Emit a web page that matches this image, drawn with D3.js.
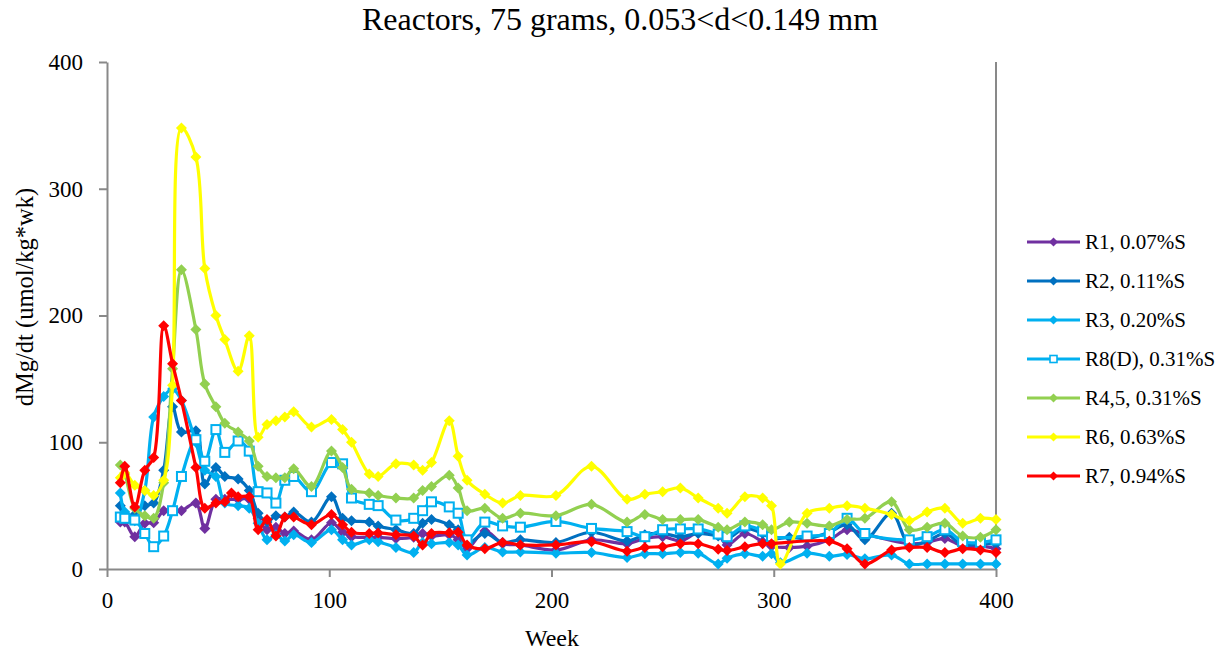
<!DOCTYPE html>
<html><head><meta charset="utf-8">
<script src="https://cdn.jsdelivr.net/npm/d3@7"></script>
<style>body{margin:0;background:#fff}svg{display:block}</style>
</head><body>
<svg id="c" width="1227" height="656"></svg>
<script>
const weeks = [6, 8, 12.5, 17, 21, 25.5, 29.5, 33.5, 40, 44, 49, 53, 56, 59, 64, 68, 72, 76, 80, 84, 92, 101, 106, 110, 118, 122, 130, 138, 142, 146, 154, 158, 162, 170, 178, 186, 202, 218, 234, 242, 250, 258, 266, 275, 279, 287, 295, 299, 303, 307, 315, 325, 333, 341, 353, 361, 369, 377, 385, 393, 400];
const r1 = [37,37,25.5,36,36.5, 46,46,46,52,32, 55,55,null,55,55, 40,31,33,28,30, 23,36.5,29,25.5,25, 25,24,25,28,26, 27,23,16,30,20, 19,15,23,20,24, 25.5,22.3,28.6,27,19, 28,21.5,18,null,17, 18,23,31,27.6,null, 20,21,24,18,18, 16];
const r2 = [50,40,43,50,52, 78,128,108,109,67, 80,73,null,71,62, 44,37,42,41,45, 37,57,40,38,37, 34,31,28,36,39, 35,31,20,28,21, 23,21,29,22,27, 28,25.5,28,26,24, 32,28,24,null,25, 24,29,35,23,44, 19,22,28,19,20, 20];
const r3 = [60,45,38,62,120, 136,142,133,100,78, 73,52,null,50,48, 36,23,27,22,27, 21,31,23,19,23, 21.5,17,13,21,20, 21,19,11,17,13.5, 13.5,12.5,13,9,12, 12,13,12.5,4,8.5, 12,10,12,5,null, 12.5,10,11.5,8,11, 4,4,4,4,4, 4];
const r8 = [41,40,38.6,28,17.6, 26,46,73,102,85, 110,92,null,101,93, 61,60,52,70,73, 61,84,83,56,51, 50,38.6,40,46,53, 49,44,23,37,34, 33,37.5,32,29.5,25.5, 31,31.6,31.6,27.6,25.5, 34,30,25.5,null,null, 26,28,40,28,null, 23,25.5,31,21.5,21, 23];
const r45 = [82,75,48,42,40, 68,158,236,189,146, 128,115,null,108,101, 81,73,72,72,79, 65,93,80,63,60, 58,56,56,62,65, 74,64,46,48,40, 44,42,51,37,43, 39,39,39,33,31, 37,35,31,null,37, 36,34,39,40,53, 31,33,36,26,25, 31];
const r6 = [72,76,66,62,58, 70,145,348,325,237, 200,181,null,156,184, 104,114,117,120,124, 112,118,110,100,75, 73,83,82,78,84, 117,89,70,59,52, 58,58,81,55,59, 61,64,56,48,44, 57,56,50,4,null, 44,48,50,48,43, 38,45,48,36,40, 39];
const r7 = [68,81,49,78,88, 192,162,133,80,48, 52,53,60,57,57, 31,39,26,41,41, 35,43,35,29,28, 28.5,27,26,19,28, 28.6,29,19,16,21, 19,19,21.5,14,17, 17.6,20,20,15.5,14.5, 17.6,20,20,null,null, null,22,16,4,15, 17,17,13,16,15, 13];
const seriesNames = ["R1, 0.07%S","R2, 0.11%S","R3, 0.20%S","R8(D), 0.31%S","R4,5, 0.31%S","R6, 0.63%S","R7, 0.94%S"];
const seriesColors = ["#7030A0","#0070C0","#00B0F0","#00B0F0","#92D050","#FFFF00","#FF0000"];
const seriesMarkers = ["diamond","diamond","diamond","square","diamond","diamond","diamond"];
const seriesValues = [r1,r2,r3,r8,r45,r6,r7];
const xTicks = [0,100,200,300,400];
const yTicks = [0,100,200,300,400];
const titleText = "Reactors, 75 grams, 0.053<d<0.149 mm";
const xTitle = "Week";
const yTitle = "dMg/dt (umol/kg*wk)";

const FONT = "Liberation Serif";
const svg = d3.select("#c");
const L = 107, R = 996, T = 62, B = 569;
const x = d3.scaleLinear().domain([0,400]).range([L,R]);
const y = d3.scaleLinear().domain([0,400]).range([B,T]);
const axisColor = "#898989";

svg.append("line").attr("x1",R).attr("x2",R).attr("y1",T).attr("y2",B).attr("stroke",axisColor).attr("stroke-width",2);

const gx = svg.append("g").attr("transform",`translate(0,${B})`)
  .call(d3.axisBottom(x).tickValues(xTicks).tickSize(8).tickSizeOuter(0).tickPadding(15));
const gy = svg.append("g").attr("transform",`translate(${L},0)`)
  .call(d3.axisLeft(y).tickValues(yTicks).tickSize(8).tickSizeOuter(0).tickPadding(16));
[gx,gy].forEach(g=>{
  g.select(".domain").attr("stroke",axisColor).attr("stroke-width",2);
  g.selectAll(".tick line").attr("stroke",axisColor).attr("stroke-width",2);
  g.selectAll(".tick text").style("font-family",FONT).style("font-size","23px").attr("fill","#000");
});

svg.append("text").attr("x",620).attr("y",30).attr("text-anchor","middle").style("font-family",FONT).style("font-size","32px").text(titleText);
svg.append("text").attr("x",552).attr("y",646).attr("text-anchor","middle").style("font-family",FONT).style("font-size","24px").text(xTitle);
svg.append("text").attr("transform","translate(33,297) rotate(-90)").attr("text-anchor","middle").style("font-family",FONT).style("font-size","24.5px").text(yTitle);

const diamond = r => `M0,${-r}L${r},0L0,${r}L${-r},0Z`;
const line = d3.line().x(d=>x(d[0])).y(d=>y(d[1])).curve(d3.curveCatmullRom.alpha(0.5));

seriesValues.forEach((vals,i)=>{
  const pts = weeks.map((w,j)=>[w,vals[j]]).filter(d=>d[1]!==null);
  const g = svg.append("g");
  g.append("path").attr("d",line(pts)).attr("fill","none").attr("stroke",seriesColors[i]).attr("stroke-width",3.2).attr("stroke-linejoin","round");
  if (seriesMarkers[i]==="diamond") {
    g.selectAll("path.m").data(pts).join("path").attr("class","m")
      .attr("transform",d=>`translate(${x(d[0])},${y(d[1])})`).attr("d",diamond(5.5)).attr("fill",seriesColors[i]);
  } else {
    g.selectAll("rect").data(pts).join("rect")
      .attr("x",d=>x(d[0])-4.5).attr("y",d=>y(d[1])-4.5).attr("width",9).attr("height",9)
      .attr("fill","#fff").attr("stroke",seriesColors[i]).attr("stroke-width",2);
  }
});

const lg = svg.append("g");
seriesNames.forEach((n,i)=>{
  const cy = 242 + i*39;
  lg.append("line").attr("x1",1027).attr("x2",1080).attr("y1",cy).attr("y2",cy).attr("stroke",seriesColors[i]).attr("stroke-width",3);
  if (seriesMarkers[i]==="diamond") {
    lg.append("path").attr("transform",`translate(1053.5,${cy})`).attr("d",diamond(4.5)).attr("fill",seriesColors[i]);
  } else {
    lg.append("rect").attr("x",1050).attr("y",cy-3.5).attr("width",7).attr("height",7).attr("fill","#fff").attr("stroke",seriesColors[i]).attr("stroke-width",1.6);
  }
  lg.append("text").attr("x",1085).attr("y",cy).attr("dy","0.35em").style("font-family",FONT).style("font-size","21px").text(n);
});
</script>
</body></html>
